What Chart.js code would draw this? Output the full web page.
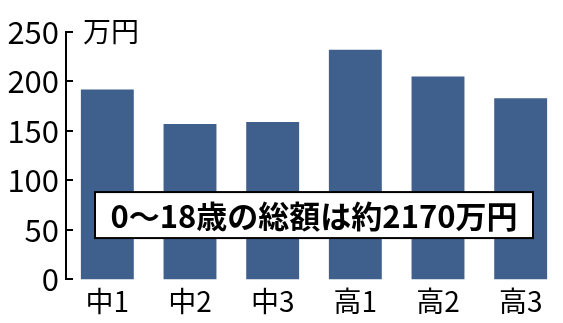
<!DOCTYPE html>
<html>
<head>
<meta charset="utf-8">
<script src="https://cdn.jsdelivr.net/npm/chart.js@4/dist/chart.umd.min.js"></script>
<style>
  html, body { margin: 0; padding: 0; background: #fff; }
  #wrap { width: 563px; height: 323px; }
</style>
</head>
<body>
<div id="wrap"><canvas id="cost"></canvas></div>
<script>
const GRADES = ["中1", "中2", "中3", "高1", "高2", "高3"];
const COSTS = [192, 157, 159, 232, 205, 183];
const Y_TICKS = [0, 50, 100, 150, 200, 250];
const UNIT = "万円";
const NOTE = "0〜18歳の総額は約2170万円";

const BAR_COLOR = "#3f5f8c";
const FONT = "'Noto Sans CJK JP', 'Noto Sans', sans-serif";

// ticks pointing into the plot, unit label and the note box
const extras = {
  id: "extras",
  afterDraw(chart) {
    const ctx = chart.ctx;
    const area = chart.chartArea;
    const x = chart.scales.x;
    const y = chart.scales.y;

    ctx.save();
    ctx.strokeStyle = "#000";
    ctx.lineWidth = 2;
    Y_TICKS.forEach(function (v) {
      const py = Math.round(y.getPixelForValue(v));
      ctx.beginPath();
      ctx.moveTo(area.left - 1, py);
      ctx.lineTo(area.left + 7, py);
      ctx.stroke();
    });

    ctx.fillStyle = "#000";
    ctx.font = "28px " + FONT;
    ctx.textBaseline = "middle";
    ctx.textAlign = "left";
    ctx.fillText(UNIT, area.left + 17, y.getPixelForValue(250) - 1);

    // note box
    const cx = x.getPixelForValue(2.5);
    const cy = y.getPixelForValue(65);
    const w = 438, h = 46;
    ctx.fillStyle = "#fff";
    ctx.fillRect(cx - w / 2, cy - h / 2, w, h);
    ctx.lineWidth = 2;
    ctx.strokeRect(cx - w / 2, cy - h / 2, w, h);
    ctx.fillStyle = "#000";
    ctx.font = "bold 31px " + FONT;
    ctx.textAlign = "center";
    ctx.fillText(NOTE, cx, cy + 1);
    ctx.restore();
  },
};

new Chart(document.getElementById("cost"), {
  type: "bar",
  data: {
    labels: GRADES,
    datasets: [
      {
        data: COSTS,
        backgroundColor: BAR_COLOR,
        borderWidth: 0,
        barPercentage: 0.64,
        categoryPercentage: 1,
      },
    ],
  },
  options: {
    responsive: true,
    maintainAspectRatio: false,
    animation: false,
    layout: { padding: { left: 0, right: 1, top: 32, bottom: 0 } },
    plugins: {
      legend: { display: false },
      tooltip: { enabled: false },
    },
    scales: {
      x: {
        grid: { display: false, drawTicks: false },
        border: { display: false },
        ticks: {
          color: "#000",
          padding: 5,
          font: { family: FONT, size: 28 },
        },
      },
      y: {
        min: 0,
        max: 250,
        grid: { display: false, drawTicks: false },
        border: { display: true, color: "#000", width: 2 },
        afterFit(scale) {
          scale.width = 66;
        },
        ticks: {
          stepSize: 50,
          color: "#000",
          padding: 7,
          font: { family: FONT, size: 31 },
        },
      },
    },
  },
  plugins: [extras],
});
</script>
</body>
</html>
